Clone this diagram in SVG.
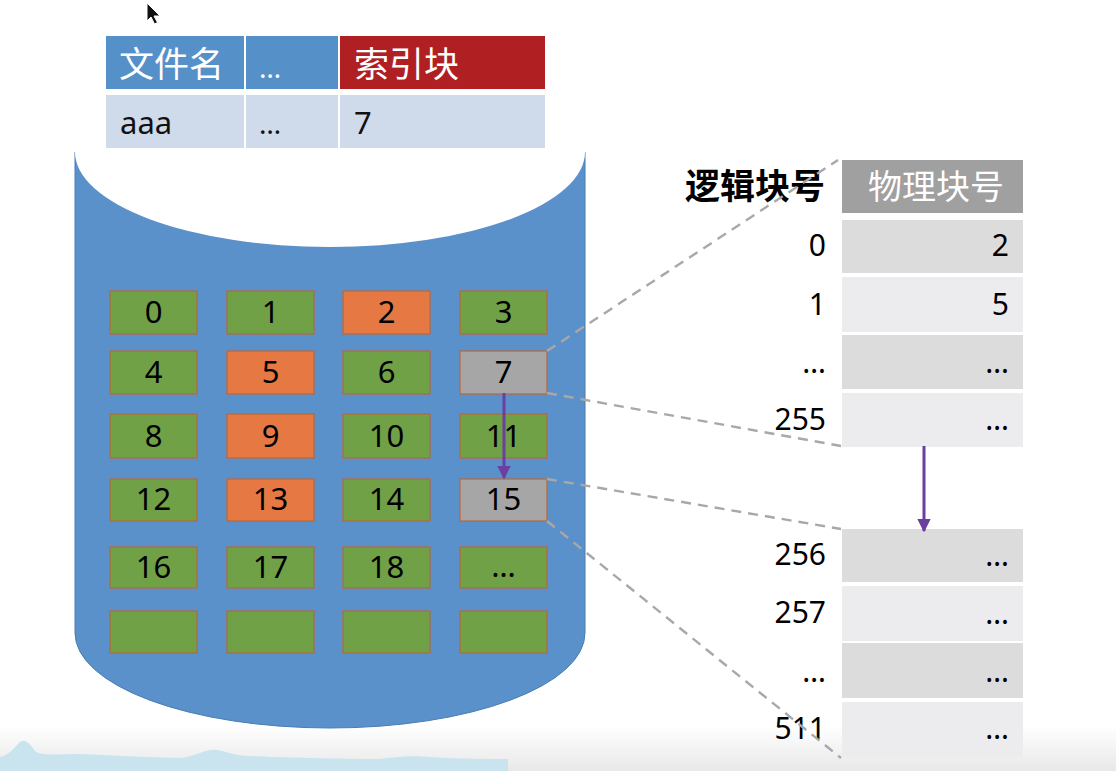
<svg xmlns="http://www.w3.org/2000/svg" width="1116" height="771" viewBox="0 0 1116 771">
<defs>
<style>
text{font-family:"Noto Sans","Noto Sans CJK SC",sans-serif;}
.blk{stroke:#B8683A;stroke-width:1.2;}
.g{fill:#71A147;}
.o{fill:#E67843;}
.gr{fill:#A6A6A6;}
.bt{font-size:31px;fill:#000;text-anchor:middle;}
.rt{font-size:30px;fill:#000;text-anchor:end;}
.dash{stroke:#A8A8A8;stroke-width:2.4;stroke-dasharray:10,7;fill:none;}
.arr{stroke:#6B3FA0;stroke-width:3;fill:none;marker-end:url(#ah);}
.dk{fill:#DCDCDC;}
.lt{fill:#ECECEE;}
</style>
<marker id="ah" viewBox="0 0 10 10" refX="9" refY="5" markerWidth="4.5" markerHeight="4.5" orient="auto" markerUnits="strokeWidth">
<path d="M0,0 L10,5 L0,10 Z" fill="#6B3FA0"/>
</marker>
<linearGradient id="bg" x1="0" y1="0" x2="0" y2="1">
<stop offset="0" stop-color="#FFFFFF"/>
<stop offset="1" stop-color="#E8E8E8"/>
</linearGradient>
</defs>
<rect width="1116" height="771" fill="#FFFFFF"/>
<rect x="0" y="725" width="1116" height="46" fill="url(#bg)"/>
<path d="M0,757 C8,756 14,748 20,742 C26,738 30,744 36,752 C45,756 60,754 80,754 C110,755 130,757 180,758 C195,756 200,752 210,750 C222,748 230,756 250,756 C300,758 360,759 380,759 C395,757 410,755 430,757 C460,759 490,759 508,759 L508,771 L0,771 Z" fill="#C9E4EF"/>

<g id="disk">
<path d="M75,152 L75,633 A255,95 0 0 0 585,633 L585,152 Z" fill="#5A91CA" stroke="#4A7DB3" stroke-width="1"/>
<ellipse cx="330" cy="152" rx="255" ry="95" fill="#FFFFFF"/>
</g>

<g id="fcb">
<rect x="106" y="36" width="138" height="53" fill="#5690C8"/>
<rect x="246" y="36" width="92" height="53" fill="#5690C8"/>
<rect x="340" y="36" width="205" height="53" fill="#B01F22"/>
<rect x="106" y="95" width="138" height="53" fill="#CFDAEA"/>
<rect x="246" y="95" width="92" height="53" fill="#CFDAEA"/>
<rect x="340" y="95" width="205" height="53" fill="#CFDAEA"/>
<text x="119" y="77" font-size="35" fill="#FFFFFF">文件名</text>
<text x="259" y="78" font-size="28" fill="#FFFFFF">…</text>
<text x="354" y="77" font-size="35" fill="#FFFFFF">索引块</text>
<text x="120" y="134" font-size="31" fill="#111">aaa</text>
<text x="259" y="134" font-size="28" fill="#111">…</text>
<text x="354" y="134" font-size="31" fill="#111">7</text>
</g>

<g id="blocks">
<g id="b0"><rect class="blk g" x="110" y="291" width="87" height="43"/><text class="bt" x="153.5" y="323">0</text></g>
<g id="b1"><rect class="blk g" x="227" y="291" width="87" height="43"/><text class="bt" x="270.5" y="323">1</text></g>
<g id="b2"><rect class="blk o" x="343" y="291" width="87" height="43"/><text class="bt" x="386.5" y="323">2</text></g>
<g id="b3"><rect class="blk g" x="460" y="291" width="87" height="43"/><text class="bt" x="503.5" y="323">3</text></g>
<g id="b4"><rect class="blk g" x="110" y="351" width="87" height="43"/><text class="bt" x="153.5" y="383">4</text></g>
<g id="b5"><rect class="blk o" x="227" y="351" width="87" height="43"/><text class="bt" x="270.5" y="383">5</text></g>
<g id="b6"><rect class="blk g" x="343" y="351" width="87" height="43"/><text class="bt" x="386.5" y="383">6</text></g>
<g id="b7"><rect class="blk gr" x="460" y="351" width="87" height="43"/><text class="bt" x="503.5" y="383">7</text></g>
<g id="b8"><rect class="blk g" x="110" y="414" width="87" height="44"/><text class="bt" x="153.5" y="447">8</text></g>
<g id="b9"><rect class="blk o" x="227" y="414" width="87" height="44"/><text class="bt" x="270.5" y="447">9</text></g>
<g id="b10"><rect class="blk g" x="343" y="414" width="87" height="44"/><text class="bt" x="386.5" y="447">10</text></g>
<g id="b11"><rect class="blk g" x="460" y="414" width="87" height="44"/><text class="bt" x="503.5" y="447">11</text></g>
<g id="b12"><rect class="blk g" x="110" y="479" width="87" height="42"/><text class="bt" x="153.5" y="510">12</text></g>
<g id="b13"><rect class="blk o" x="227" y="479" width="87" height="42"/><text class="bt" x="270.5" y="510">13</text></g>
<g id="b14"><rect class="blk g" x="343" y="479" width="87" height="42"/><text class="bt" x="386.5" y="510">14</text></g>
<g id="b15"><rect class="blk gr" x="460" y="479" width="87" height="42"/><text class="bt" x="503.5" y="510">15</text></g>
<g id="b16"><rect class="blk g" x="110" y="547" width="87" height="41"/><text class="bt" x="153.5" y="578">16</text></g>
<g id="b17"><rect class="blk g" x="227" y="547" width="87" height="41"/><text class="bt" x="270.5" y="578">17</text></g>
<g id="b18"><rect class="blk g" x="343" y="547" width="87" height="41"/><text class="bt" x="386.5" y="578">18</text></g>
<g id="b19"><rect class="blk g" x="460" y="547" width="87" height="41"/><text class="bt" x="503.5" y="577" font-size="26">…</text></g>
<g id="b20"><rect class="blk g" x="110" y="611" width="87" height="42"/></g>
<g id="b21"><rect class="blk g" x="227" y="611" width="87" height="42"/></g>
<g id="b22"><rect class="blk g" x="343" y="611" width="87" height="42"/></g>
<g id="b23"><rect class="blk g" x="460" y="611" width="87" height="42"/></g>
</g>

<g id="index-table">
<text x="825" y="199" font-size="35" font-weight="bold" fill="#000" text-anchor="end">逻辑块号</text>
<rect x="842" y="160" width="181" height="53" fill="#A0A0A0"/>
<text x="868" y="199" font-size="34" fill="#FFFFFF">物理块号</text>
<rect class="dk" x="842" y="220" width="181" height="53"/>
<rect class="lt" x="842" y="277" width="181" height="55"/>
<rect class="dk" x="842" y="335" width="181" height="54"/>
<rect class="lt" x="842" y="393" width="181" height="54"/>
<rect class="dk" x="842" y="529" width="181" height="53"/>
<rect class="lt" x="842" y="586" width="181" height="55"/>
<rect class="dk" x="842" y="643" width="181" height="55"/>
<rect class="lt" x="842" y="702" width="181" height="55"/>
<text class="rt" x="826" y="256">0</text><text class="rt" x="1009" y="256">2</text>
<text class="rt" x="826" y="315">1</text><text class="rt" x="1009" y="315">5</text>
<text class="rt" x="826" y="373" font-size="26">…</text><text class="rt" x="1009" y="373" font-size="26">…</text>
<text class="rt" x="826" y="430">255</text><text class="rt" x="1009" y="430" font-size="26">…</text>
<text class="rt" x="826" y="565">256</text><text class="rt" x="1009" y="566" font-size="26">…</text>
<text class="rt" x="826" y="623">257</text><text class="rt" x="1009" y="624" font-size="26">…</text>
<text class="rt" x="826" y="682" font-size="26">…</text><text class="rt" x="1009" y="682" font-size="26">…</text>
<text class="rt" x="826" y="739">511</text><text class="rt" x="1009" y="739" font-size="26">…</text>
</g>

<g id="connectors">
<line class="dash" x1="547" y1="351" x2="838" y2="160"/>
<line class="dash" x1="547" y1="393" x2="841" y2="446"/>
<line class="dash" x1="547" y1="479" x2="841" y2="529"/>
<line class="dash" x1="547" y1="521" x2="841" y2="758"/>
<line class="arr" x1="504" y1="393" x2="504" y2="478"/>
<line class="arr" x1="924" y1="446" x2="924" y2="531"/>
</g>

<path d="M147,3 L147,21 L151,17 L154.5,24 L157.5,22.5 L154,16 L160,16 Z" fill="#111" stroke="#FFF" stroke-width="1"/>
</svg>
